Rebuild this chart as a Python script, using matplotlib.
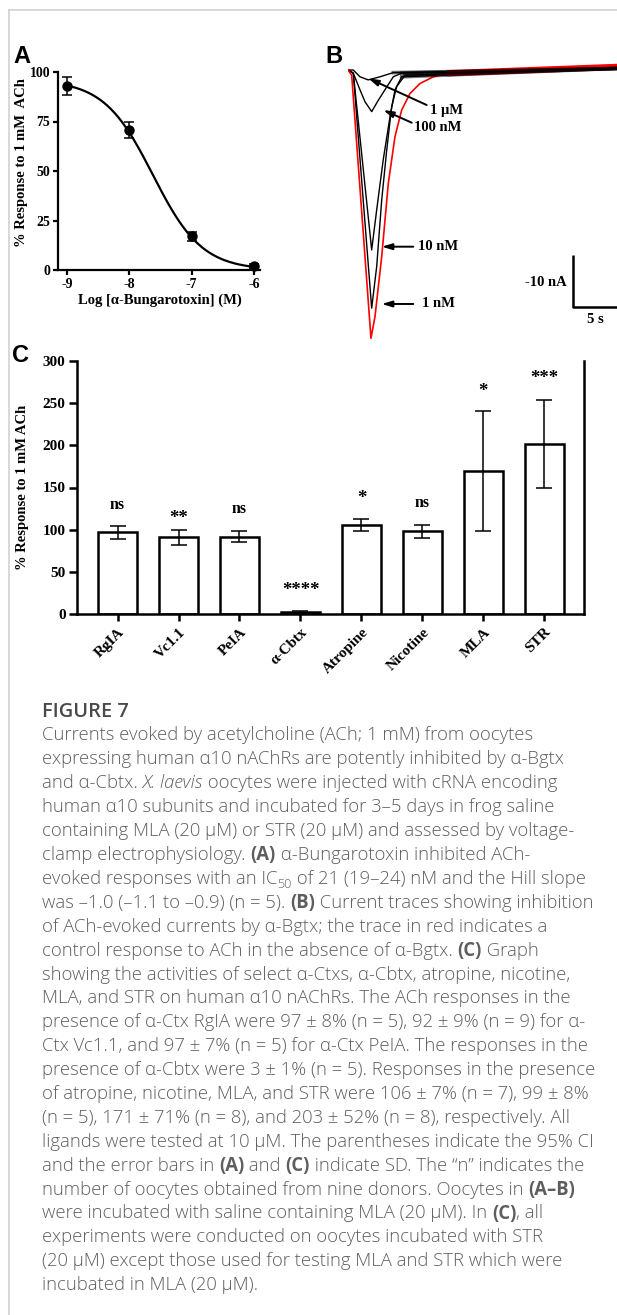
import matplotlib
matplotlib.use("Agg")
import matplotlib.pyplot as plt
import numpy as np
from matplotlib.lines import Line2D

W, H = 617, 1315
DPI = 100

# panel A: concentration-response
log_conc = [-9, -8, -7, -6]
resp_mean = [93, 70.5, 17, 2]
resp_sd = [4.5, 4, 2.3, 1]
fit_top = 96
fit_bottom = 0
fit_logic50 = -7.62
fit_hill = 1.1

# panel B: current traces (time in s, current in nA)
red_t = [0, 0.42, 2.61, 3.07, 3.83, 4.58, 5.34, 6.1, 7.05, 8.18, 9.7, 11.6, 30.57]
red_i = [0, -1.0, -51.6, -47.4, -35.9, -21.8, -12.8, -7.7, -4.5, -2.6, -1.3, -0.6, 0.6]
t_1nm = [0, 0.6, 2.69, 3.26, 3.83, 4.4, 4.96, 5.53, 6.48, 30.57]
i_1nm = [0, -0.6, -45.8, -37.8, -25, -15.4, -7.1, -3.2, -1.0, 0.3]
t_10nm = [0, 0.6, 2.69, 3.26, 4.0, 4.77, 5.34, 6.1, 30.57]
i_10nm = [0, -0.6, -34.6, -26.9, -17.3, -9, -3.8, -1.3, 0.3]
t_100nm = [0, 0.6, 1.36, 1.93, 2.69, 3.45, 4.2, 5.15, 6.1, 30.57]
i_100nm = [0, -0.6, -3.8, -6.1, -8.0, -5.8, -3.8, -1.3, -0.6, 0.3]
t_1um = [0, 0.6, 1.36, 2.3, 3.64, 5.15, 30.57]
i_1um = [0, 0, -1.3, -1.9, -1.3, -0.5, 0.3]
trace_labels = ["1 μM", "100 nM", "10 nM", "1 nM"]
# arrow tip, arrow tail, label position (s, nA)
label_pos = [((2.31, -1.6), (8.94, -6.73), (9.32, -7.88)),
             ((4.01, -7.69), (7.24, -10.13), (7.5, -11.1)),
             ((3.83, -33.98), (7.42, -33.98), (7.99, -33.98)),
             ((3.83, -45.0), (7.42, -45.0), (8.44, -45.0))]

# panel C: bar graph
ligands = ["RgIA", "Vc1.1", "PeIA", "α-Cbtx", "Atropine", "Nicotine", "MLA", "STR"]
pct_mean = [97, 91, 92, 3, 106, 98, 170, 202]
pct_sd = [8, 9, 7, 1, 7, 8, 71, 52]
signif = ["ns", "**", "ns", "****", "*", "ns", "*", "***"]
signif_y = [129, 113, 125, 28, 137, 132, 264, 279]

caption_title = "FIGURE 7"
caption = [
    [("Currents evoked by acetylcholine (ACh; 1 mM) from oocytes", "n")],
    [("expressing human α10 nAChRs are potently inhibited by α-Bgtx", "n")],
    [("and α-Cbtx. ", "n"), ("X. laevis", "i"), (" oocytes were injected with cRNA encoding", "n")],
    [("human α10 subunits and incubated for 3–5 days in frog saline", "n")],
    [("containing MLA (20 µM) or STR (20 µM) and assessed by voltage-", "n")],
    [("clamp electrophysiology. ", "n"), ("(A)", "b"), (" α-Bungarotoxin inhibited ACh-", "n")],
    [("evoked responses with an IC", "n"), ("50", "s"), (" of 21 (19–24) nM and the Hill slope", "n")],
    [("was –1.0 (–1.1 to –0.9) (n = 5). ", "n"), ("(B)", "b"), (" Current traces showing inhibition", "n")],
    [("of ACh-evoked currents by α-Bgtx; the trace in red indicates a", "n")],
    [("control response to ACh in the absence of α-Bgtx. ", "n"), ("(C)", "b"), (" Graph", "n")],
    [("showing the activities of select α-Ctxs, α-Cbtx, atropine, nicotine,", "n")],
    [("MLA, and STR on human α10 nAChRs. The ACh responses in the", "n")],
    [("presence of α-Ctx RgIA were 97 ± 8% (n = 5), 92 ± 9% (n = 9) for α-", "n")],
    [("Ctx Vc1.1, and 97 ± 7% (n = 5) for α-Ctx PeIA. The responses in the", "n")],
    [("presence of α-Cbtx were 3 ± 1% (n = 5). Responses in the presence", "n")],
    [("of atropine, nicotine, MLA, and STR were 106 ± 7% (n = 7), 99 ± 8%", "n")],
    [("(n = 5), 171 ± 71% (n = 8), and 203 ± 52% (n = 8), respectively. All", "n")],
    [("ligands were tested at 10 µM. The parentheses indicate the 95% CI", "n")],
    [("and the error bars in ", "n"), ("(A)", "b"), (" and ", "n"), ("(C)", "b"),
     (" indicate SD. The “n” indicates the", "n")],
    [("number of oocytes obtained from nine donors. Oocytes in ", "n"), ("(A–B)", "b")],
    [("were incubated with saline containing MLA (20 µM). In ", "n"), ("(C)", "b"), (", all", "n")],
    [("experiments were conducted on oocytes incubated with STR", "n")],
    [("(20 µM) except those used for testing MLA and STR which were", "n")],
    [("incubated in MLA (20 µM).", "n")],
]

plt.rcParams['font.family'] = ['Liberation Serif', 'DejaVu Serif']
plt.rcParams['font.weight'] = 'bold'

fig = plt.figure(figsize=(W / DPI, H / DPI), dpi=DPI)
fig.patch.set_facecolor('white')


def px_axes(left, top, right, bottom):
    return fig.add_axes([left / W, 1 - bottom / H, (right - left) / W, (bottom - top) / H])


def fy(y):
    return 1 - y / H


# page border
fig.add_artist(Line2D([9 / W, 9 / W], [0, fy(10)], color='#d2d2d2', lw=1.2, transform=fig.transFigure))
fig.add_artist(Line2D([9 / W, 1], [fy(10), fy(10)], color='#d2d2d2', lw=1.2, transform=fig.transFigure))

# panel letters
for letter, x, y in [("A", 13, 63), ("B", 325, 63), ("C", 12, 362)]:
    fig.text(x / W, fy(y), letter, fontsize=17, fontweight='bold',
             family='Liberation Sans', va='baseline', ha='left')

# ---------- A ----------
axA = px_axes(58, 72, 260, 270)
xs = np.linspace(-9, -6, 200)
fit = fit_bottom + (fit_top - fit_bottom) / (1 + 10 ** (fit_hill * (xs - fit_logic50)))
axA.plot(xs, fit, color='k', lw=1.6)
axA.errorbar(log_conc, resp_mean, yerr=resp_sd, fmt='o', color='k', ms=6.5,
             capsize=3.5, elinewidth=1.1, capthick=1.1, clip_on=False, zorder=3)
axA.set_xlim(-9.145, -5.9)
axA.set_ylim(0, 100)
for s in ['top', 'right']:
    axA.spines[s].set_visible(False)
for s in ['left', 'bottom']:
    axA.spines[s].set_linewidth(1.6)
axA.set_xticks(log_conc)
axA.set_xticklabels([str(v) for v in log_conc])
axA.set_yticks([0, 25, 50, 75, 100])
axA.tick_params(width=1.6, length=3.5, labelsize=10, pad=2)
fig.text(22 / W, fy(163), "% Response to 1 mM  ACh", rotation=90,
         ha='center', va='center', fontsize=10.5)
fig.text(160 / W, fy(300), "Log [α-Bungarotoxin] (M)", ha='center', va='center', fontsize=10.5)

# ---------- B ----------
axB = px_axes(348, 50, 617, 350)
axB.set_xlim(0, 30.57)
axB.set_ylim(-53.85, 3.85)
axB.axis('off')
black = [(t_1um, i_1um), (t_100nm, i_100nm), (t_10nm, i_10nm), (t_1nm, i_1nm)]
for t, i in black:
    axB.plot(t, i, color='k', lw=1.0)
axB.plot(red_t, red_i, color='red', lw=1.2)
# noisy baseline band (recording noise shown as a thick band)
axB.plot(red_t[-2:], red_i[-2:], color='red', lw=4.5)
for t, i in black:
    axB.plot(t[-2:], i[-2:], color='k', lw=2.6, alpha=0.55)
for lab, (tip, tail, txt) in zip(trace_labels, label_pos):
    axB.annotate("", xy=tip, xytext=tail,
                 arrowprops=dict(arrowstyle='-|>,head_length=0.6,head_width=0.18',
                                 color='k', lw=1.4, shrinkA=0, shrinkB=0))
    axB.text(txt[0], txt[1], lab, ha='left', va='center', fontsize=10.5)
axB.plot([25.57, 25.57, 30.57], [-35.58, -45.58, -45.58], color='k', lw=1.8,
         clip_on=False, solid_capstyle='butt')
axB.text(24.9, -40.8, "-10 nA", ha='right', va='center', fontsize=10.5)
axB.text(28.07, -47.9, "5 s", ha='center', va='center', fontsize=10.5)

# ---------- C ----------
axC = px_axes(76.7, 360.7, 584, 614.3)
xpos = np.arange(len(ligands))
axC.bar(xpos, pct_mean, width=0.64, color='white', edgecolor='k', linewidth=1.8, zorder=2)
axC.errorbar(xpos, pct_mean, yerr=pct_sd, fmt='none', ecolor='k', elinewidth=1.1,
             capsize=5.5, capthick=1.1, zorder=3)
for i, (s, y) in enumerate(zip(signif, signif_y)):
    fs = 11.5 if s == "ns" else 13.5
    axC.text(i, y, s, ha='center', va='center', fontsize=fs)
axC.set_xlim(-0.67, 7.65)
axC.set_ylim(0, 300)
axC.spines['top'].set_visible(False)
for s in ['left', 'bottom', 'right']:
    axC.spines[s].set_linewidth(1.8)
axC.set_yticks(range(0, 301, 50))
axC.set_xticks(xpos)
axC.set_xticklabels(ligands, rotation=45, ha='right', va='top', rotation_mode='anchor')
axC.tick_params(axis='y', width=1.8, length=6, labelsize=11, pad=2)
axC.tick_params(axis='x', width=1.8, length=5, labelsize=11, pad=3)
fig.text(23 / W, fy(487), "% Response to 1 mM ACh", rotation=90,
         ha='center', va='center', fontsize=10.5)

# ---------- caption ----------
cap_color = '#5e5e5e'
cap_family = ['Open Sans', 'DejaVu Sans']
renderer = fig.canvas.get_renderer()


def text_width(s, **kw):
    t = fig.text(0, 0, s, **kw)
    w = t.get_window_extent(renderer).width
    t.remove()
    return w


def advance(s, **kw):
    return text_width('.' + s + '.', **kw) - text_width('..', **kw)


def style_kw(style, size):
    kw = dict(family=cap_family, color=cap_color, fontsize=size, fontweight='light', fontstyle='normal')
    if style == 'b':
        kw['fontweight'] = 'bold'
    elif style == 'i':
        kw['fontstyle'] = 'italic'
    elif style == 's':
        kw['fontsize'] = size * 0.68
    return kw


def line_width(parts, size):
    return sum(advance(txt, **style_kw(st, size)) for txt, st in parts)


ref = 11.0
widest = max(line_width(parts, ref) for parts in caption)
cap_size = ref * 555 / widest
fig.text(42 / W, fy(717), caption_title, family=cap_family, fontsize=cap_size * 1.08,
         fontweight='semibold', color='#4a4a4a', va='baseline', ha='left')

for n, parts in enumerate(caption):
    ybase = 740.5 + n * 23.9
    x = 42
    for txt, style in parts:
        kw = style_kw(style, cap_size)
        yy = ybase + (4 if style == 's' else 0)
        fig.text(x / W, fy(yy), txt, va='baseline', ha='left', **kw)
        x += advance(txt, **kw)

fig.savefig("out.png", dpi=DPI, facecolor='white')
